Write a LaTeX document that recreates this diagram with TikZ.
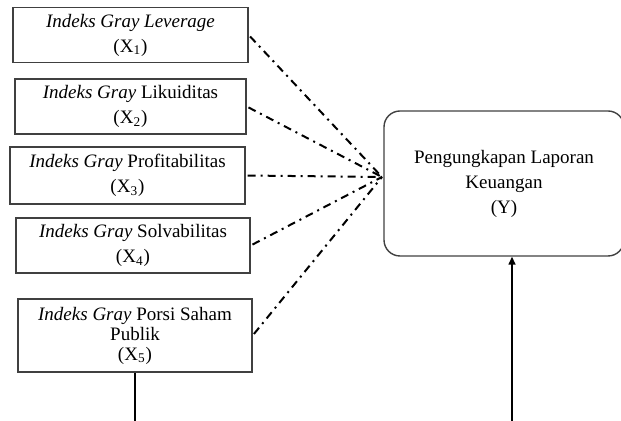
\documentclass[tikz,border=0pt]{standalone}
\usepackage{fontspec}
\setmainfont{Liberation Serif}
\usetikzlibrary{arrows.meta,positioning}

\begin{document}
\begin{tikzpicture}[x=0.5pt,y=-0.5pt,
  xbox/.style={draw=black!75,line width=0.7pt,inner sep=0pt,
               minimum width=117.5pt,minimum height=27.5pt,align=center,
               font=\fontsize{9.5}{12.5}\selectfont},
  ybox/.style={xbox,rounded corners=8pt,minimum width=120pt,
               minimum height=72.5pt},
  link/.style={line width=1pt,shorten <=1pt,
               dash pattern=on 4pt off 2.5pt on 1pt off 2.5pt}]
  \useasboundingbox (0,0) rectangle (621,421);
  \node[xbox](X1) at (130.5,35)
       {\textit{Indeks Gray Leverage}\\(X\textsubscript{1})};
  \node[xbox,minimum width=115.5pt](X2) at (130.5,106.5)
       {\textit{Indeks Gray} Likuiditas\\(X\textsubscript{2})};
  \node[xbox,minimum height=28.5pt](X3) at (127.5,175.5)
       {\textit{Indeks Gray} Profitabilitas\\(X\textsubscript{3})};
  \node[xbox,minimum width=117pt](X4) at (133,245.5)
       {\textit{Indeks Gray} Solvabilitas\\(X\textsubscript{4})};
  \node[xbox,minimum width=117pt,minimum height=36.5pt,
        font=\fontsize{9.5}{10}\selectfont](X5) at (135,335.5)
       {\textit{Indeks Gray} Porsi Saham\\Publik\\(X\textsubscript{5})};
  \node[ybox](Y) at (504,183.5){Pengungkapan Laporan\\Keuangan\\(Y)};
  \coordinate (hub) at (382,177);
  \coordinate (xend) at (135,421);
  \coordinate (yend) at (512,421);
  \foreach \i in {1,...,5}
    \draw[link](X\i.east)--(hub);
  \draw[line width=0.7pt](X5.south)--(xend);
  \draw[-{Triangle[length=4pt,width=3.5pt]},line width=0.7pt]
       (yend)--(Y.south -| yend);
\end{tikzpicture}
\end{document}
